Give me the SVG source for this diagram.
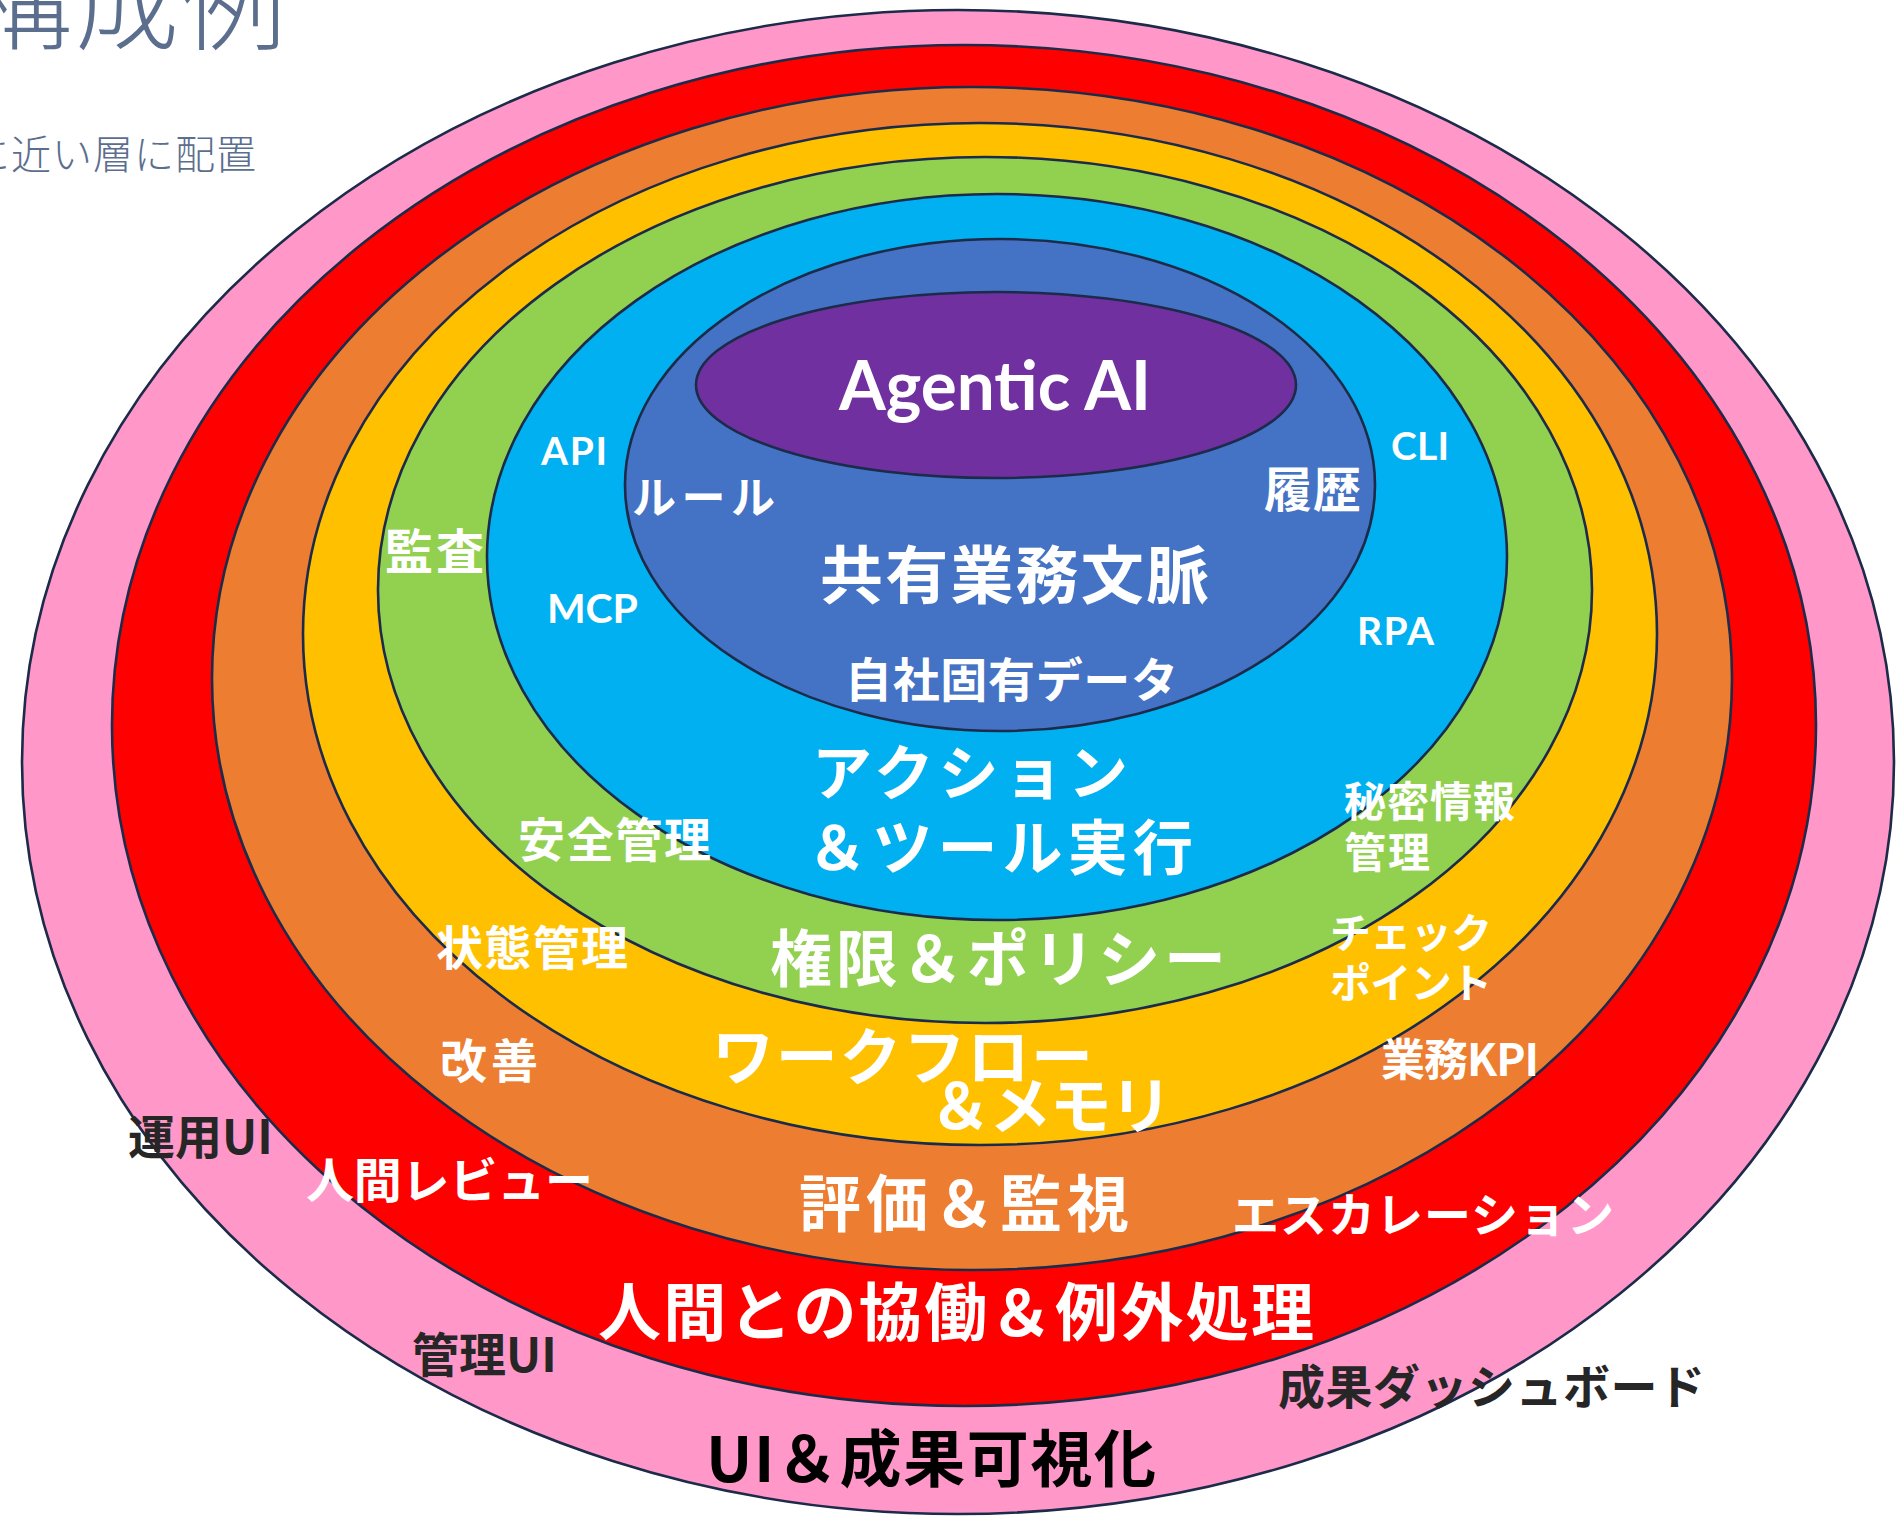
<svg xmlns="http://www.w3.org/2000/svg" width="1899" height="1516" viewBox="0 0 1899 1516">
<style>
.ring{stroke:#1C2B4A;stroke-width:2.6}
.w{fill:#FFFFFF;font-family:"Noto Sans CJK JP","Noto Sans",sans-serif;font-weight:700}
.wl{fill:#FFFFFF;font-family:Lato,"Noto Sans",sans-serif;font-weight:700}
.d{fill:#262626;font-family:"Noto Sans CJK JP","Noto Sans",sans-serif;font-weight:700}
.k{fill:#000000;font-family:"Noto Sans CJK JP","Noto Sans",sans-serif;font-weight:700}
.t{fill:#5B6E8E;font-family:"Noto Sans CJK JP","Noto Sans",sans-serif;font-weight:300}
</style>
<rect width="1899" height="1516" fill="#FFFFFF"/>
<g id="title">
<text class="t" x="-32" y="42" font-size="104" letter-spacing="3">構成例</text>
<text class="t" x="-30" y="169" font-size="40" letter-spacing="1">に近い層に配置</text>
</g>
<g id="rings">
<ellipse id="ring-ui" class="ring" cx="958" cy="762" rx="936" ry="752" fill="#FF97C9"/>
<ellipse id="ring-human" class="ring" cx="964" cy="725.5" rx="852" ry="680.5" fill="#FF0000"/>
<ellipse id="ring-eval" class="ring" cx="972" cy="678.5" rx="760" ry="591.5" fill="#ED7D31"/>
<ellipse id="ring-workflow" class="ring" cx="980" cy="634" rx="677" ry="511" fill="#FFC000"/>
<ellipse id="ring-policy" class="ring" cx="985" cy="590" rx="607" ry="433" fill="#92D050"/>
<ellipse id="ring-action" class="ring" cx="997" cy="557" rx="510" ry="363" fill="#00B0F0"/>
<ellipse id="ring-context" class="ring" cx="1000" cy="485" rx="375" ry="246" fill="#4472C4"/>
<ellipse id="core-agentic-ai" class="ring" cx="996" cy="385" rx="300" ry="93" fill="#7030A0"/>
</g>
<g id="connectors"></g>
<g id="labels">
<g id="label-core">
<text class="wl" x="839" y="410" font-size="68" textLength="312" lengthAdjust="spacingAndGlyphs">Agentic AI</text>
</g>
<g id="label-context">
<text class="w" x="820" y="598" font-size="63" textLength="389">共有業務文脈</text>
<text class="w" x="845" y="697" font-size="47" textLength="333">自社固有データ</text>
<text class="w" x="632" y="514" font-size="44" textLength="143">ルール</text>
<text class="w" x="1264" y="507" font-size="48" textLength="97">履歴</text>
</g>
<g id="label-action">
<text class="w" x="812" y="795" font-size="60" textLength="316">アクション</text>
<text class="w" x="807" y="870" font-size="60" textLength="386">＆ツール実行</text>
<text class="wl" x="541" y="465" font-size="39" textLength="66">API</text>
<text class="wl" x="547" y="623" font-size="41" textLength="91">MCP</text>
<text class="wl" x="1391" y="460" font-size="39" textLength="58">CLI</text>
<text class="wl" x="1357" y="645" font-size="39" textLength="77">RPA</text>
</g>
<g id="label-policy">
<text class="w" x="770" y="982" font-size="62" textLength="456">権限＆ポリシー</text>
<text class="w" x="385" y="569" font-size="48" textLength="99">監査</text>
<text class="w" x="518" y="857" font-size="47" textLength="193">安全管理</text>
<text class="w" x="1344" y="817" font-size="42" textLength="171">秘密情報</text>
<text class="w" x="1344" y="868" font-size="42" textLength="86">管理</text>
</g>
<g id="label-workflow">
<text class="w" x="712" y="1080" font-size="62" textLength="381">ワークフロー</text>
<text class="w" x="929" y="1129" font-size="62" textLength="243">＆メモリ</text>
<text class="w" x="436" y="965" font-size="47" textLength="192">状態管理</text>
<text class="w" x="1330" y="948" font-size="41" textLength="162">チェック</text>
<text class="w" x="1330" y="998" font-size="41" textLength="162">ポイント</text>
</g>
<g id="label-eval">
<text class="w" x="799" y="1227" font-size="62" textLength="330">評価＆監視</text>
<text class="w" x="440" y="1078" font-size="47" textLength="98">改善</text>
<text class="w" x="1381" y="1076" font-size="44" textLength="158">業務KPI</text>
</g>
<g id="label-human">
<text class="w" x="598" y="1335" font-size="63" textLength="716">人間との協働＆例外処理</text>
<text class="w" x="306" y="1198" font-size="48" textLength="287">人間レビュー</text>
<text class="w" x="1232" y="1232" font-size="47" textLength="382">エスカレーション</text>
</g>
<g id="label-ui">
<text class="k" x="706" y="1482" font-size="62" textLength="450">UI＆成果可視化</text>
<text class="d" x="128" y="1154" font-size="47">運用UI</text>
<text class="d" x="412" y="1372" font-size="47">管理UI</text>
<text class="d" x="1278" y="1404" font-size="47" textLength="427">成果ダッシュボード</text>
</g>
</g>
</svg>
